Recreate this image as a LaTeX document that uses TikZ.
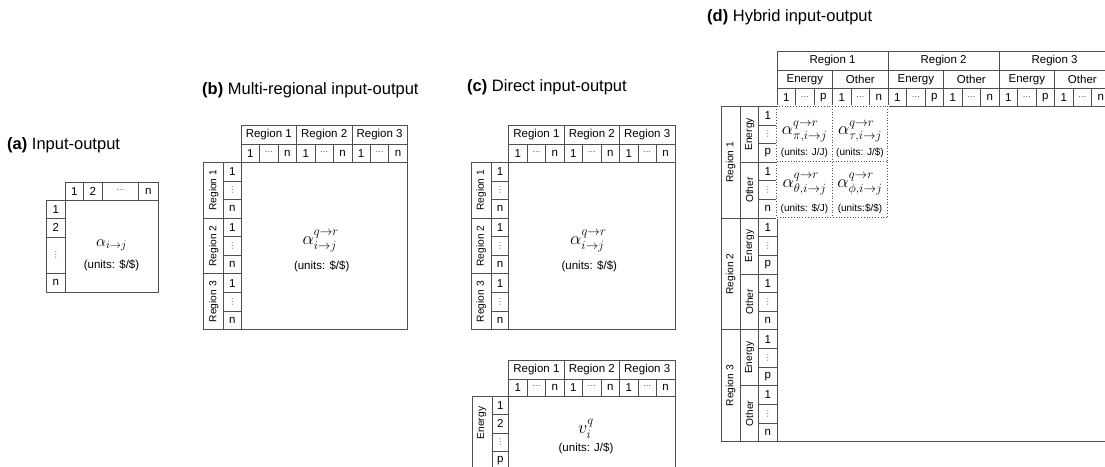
\RequirePackage{fix-cm}
\documentclass[tikz,border=0pt]{standalone}
\usepackage{fontspec}
\setmainfont{Liberation Sans}
\newfontfamily\symfont{DejaVu Sans}
\usepackage{amsmath,amssymb}
\usepackage{tikz}
\usepackage{xcolor}
\definecolor{gridline}{RGB}{80,80,80}
\newcommand{\ttlfont}{\fontsize{16.5}{18}\selectfont}
\newcommand{\labfont}{\fontsize{11.5}{12}\selectfont}
\newcommand{\rotfont}{\fontsize{10.2}{11}\selectfont}
\newcommand{\unitfont}{\fontsize{11.5}{12}\selectfont}
\newcommand{\smunitfont}{\fontsize{10}{11}\selectfont}
\newcommand{\cdg}{\textcolor{black!70}{\symfont\fontsize{8}{8}\selectfont ⋯}}
\newcommand{\vdg}{\textcolor{black!70}{\symfont\fontsize{8}{8}\selectfont ⋮}}

\begin{document}
\begin{tikzpicture}[x=1pt,y=-1pt,
  cell/.style 2 args={draw=gridline,line width=0.8pt,inner sep=0pt,
    minimum width=#1pt,minimum height=#2pt,anchor=north west,font=\labfont},
  vcell/.style 2 args={cell={#2}{#1},rotate=90,anchor=north east,font=\rotfont},
  ttl/.style={anchor=west,inner sep=0pt,font=\ttlfont},
  coef/.style={inner sep=0pt,font=\fontsize{18}{19}\selectfont},
  units/.style={inner sep=0pt,font=\unitfont}]
\useasboundingbox (0,0) rectangle (1105,466);
\clip (0,0) rectangle (1105,466);

% (a) single region
\node[ttl] (ta) at (7,145) {\textbf{(a)} Input-output};
\foreach \x/\w/\t [count=\k] in {65/18/1,83/19/2,102/36/\cdg,138/20/n}
  \node[cell={\w}{18.3}] (a-c\k) at (\x,181.7) {\t};
\foreach \y/\h/\t [count=\k] in {200/18/1,218/19/2,237/36/\vdg,273/19/n}
  \node[cell={19}{\h}] (a-s\k) at (46,\y) {\t};
\node[cell={93}{92}] (a-m) at (65,200) {};
\node[coef,font=\fontsize{16}{17}\selectfont] (a-alpha) at (111.5,245) {$\alpha_{i\to j}$};
\node[units] (a-units) at (111.5,265) {(units: \$/\$)};

% (b) and (c) multi-regional tables
\node[ttl] (tb) at (202,90) {\textbf{(b)} Multi-regional input-output};
\node[ttl] (tc) at (467,87) {\textbf{(c)} Direct input-output};
\foreach \p/\x in {b/240.7,c/508.3} {
  \foreach \r in {1,2,3} {
    \node[cell={55.4}{19}] (\p-r\r) at ({\x+(\r-1)*55.4},125) {Region \r};
    \foreach \s/\t in {1/1,2/\cdg,3/n}
      \node[cell={18.47}{18}] (\p-c\r\s) at ({\x+(\r-1)*55.4+(\s-1)*18.47},144) {\t};
    \node[vcell={20}{55.7}] (\p-g\r) at ({\x-37.4},{162+(\r-1)*55.7}) {Region \r};
    \foreach \s/\t in {1/1,2/\vdg,3/n}
      \node[cell={17.4}{18.57}] (\p-s\r\s) at ({\x-17.4},{162+(\r-1)*55.7+(\s-1)*18.57}) {\t};
  }
  \node[cell={166.2}{167}] (\p-m) at (\x,162) {};
  \node[coef] (\p-alpha) at ({\x+80},241) {$\alpha^{q\to r}_{i\to j}$};
  \node[units] (\p-units) at ({\x+81},266.5) {(units: \$/\$)};
}

% (c) energy rows, cut by the page edge
\foreach \r in {1,2,3} {
  \node[cell={55.4}{18.5}] (v-r\r) at ({508.3+(\r-1)*55.4},360) {Region \r};
  \foreach \s/\t in {1/1,2/\cdg,3/n}
    \node[cell={18.47}{17}] (v-c\r\s) at ({508.3+(\r-1)*55.4+(\s-1)*18.47},378.5) {\t};
}
\node[cell={20}{74.2}] (v-g) at (471.7,395.5) {};
\node[rotate=90,inner sep=0pt,font=\rotfont] (v-gt) at (481.7,423) {Energy};
\foreach \s/\t in {1/1,2/2,3/\vdg,4/p}
  \node[cell={16.6}{18.55}] (v-s\s) at (491.7,{395.5+(\s-1)*18.55}) {\t};
\node[cell={166.2}{120}] (v-m) at (508.3,395.5) {};
\node[coef] (v-coef) at (586,429) {$v^{q}_{i}$};
\node[units] (v-units) at (586,448.5) {(units: J/\$)};

% (d) hybrid table
\node[ttl] (td) at (707,17) {\textbf{(d)} Hybrid input-output};
\foreach \r in {1,2,3} {
  \pgfmathsetmacro\xr{776.7+(\r-1)*111}
  \pgfmathsetmacro\yr{106+(\r-1)*111.7}
  \node[cell={111}{19}] (d-r\r) at (\xr,51) {Region \r};
  \node[cell={55.5}{18.3}] (d-e\r) at (\xr,70) {Energy};
  \node[cell={55.5}{18.3}] (d-o\r) at ({\xr+55.5},70) {Other};
  \foreach \s/\t in {1/1,2/\cdg,3/p,4/1,5/\cdg,6/n}
    \node[cell={18.5}{17.7}] (d-c\r\s) at ({\xr+(\s-1)*18.5},88.3) {\t};
  \node[vcell={19.3}{111.7}] (d-g\r) at (720.7,\yr) {Region \r};
  \node[vcell={18.3}{55.85}] (d-ge\r) at (740,\yr) {Energy};
  \node[vcell={18.3}{55.85}] (d-go\r) at (740,{\yr+55.85}) {Other};
  \foreach \s/\t in {1/1,2/\vdg,3/p,4/1,5/\vdg,6/n}
    \node[cell={18.4}{18.62}] (d-s\r\s) at (758.3,{\yr+(\s-1)*18.62}) {\t};
}
\node[cell={333}{335}] (d-m) at (776.7,106) {};
% region 1 block, dotted
\draw[white,line width=2pt] (776.7,106) rectangle (887.7,217.7);
\draw[gridline,line width=0.8pt,dotted] (776.7,106) rectangle (887.7,217.7)
  (832.2,106) -- (832.2,217.7) (776.7,161.85) -- (887.7,161.85);
\node[coef] (d-pi) at (804.5,131.5) {$\alpha^{q\to r}_{\pi,i\to j}$};
\node[coef] (d-tau) at (860,131.5) {$\alpha^{q\to r}_{\tau,i\to j}$};
\node[coef] (d-theta) at (804.5,184) {$\alpha^{q\to r}_{\theta,i\to j}$};
\node[coef] (d-phi) at (860,184) {$\alpha^{q\to r}_{\phi,i\to j}$};
\node[units,font=\smunitfont] (d-upi) at (804.5,152.5) {(units: J/J)};
\node[units,font=\smunitfont] (d-utau) at (860,152.5) {(units: J/\$)};
\node[units,font=\smunitfont] (d-utheta) at (804.5,208.5) {(units: \$/J)};
\node[units,font=\smunitfont] (d-uphi) at (860,208.5) {(units:\$/\$)};
\end{tikzpicture}
\end{document}
